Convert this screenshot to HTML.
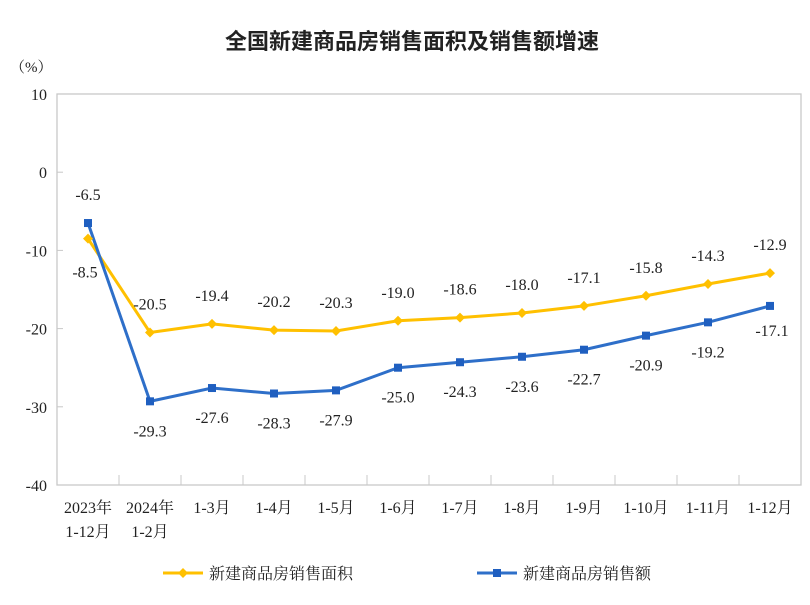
<!DOCTYPE html>
<html><head><meta charset="utf-8"><style>
body{margin:0;background:#fff;}
svg text{font-family:"Liberation Serif","Noto Serif CJK SC",serif;fill:#222;}
</style></head><body>
<svg id="c" width="810" height="600" xmlns="http://www.w3.org/2000/svg">
<text x="412" y="49" text-anchor="middle" font-size="22" font-weight="bold" style="font-family:'Liberation Sans','Noto Sans CJK SC',sans-serif">全国新建商品房销售面积及销售额增速</text>
<text x="10" y="72" font-size="15">（%）</text>
<rect x="57" y="94" width="744" height="391" fill="none" stroke="#c8c8c8" stroke-width="1.3"/>
<g id="ax"></g><g id="series"></g>
<g>
<g><line x1="163" y1="573" x2="203" y2="573" stroke="#ffc000" stroke-width="3"/><path d="M183 568 L188 573 L183 578 L178 573Z" fill="#ffc000"/><text x="209" y="579" font-size="16">新建商品房销售面积</text></g>
<g><line x1="477" y1="573" x2="517" y2="573" stroke="#2e6fc9" stroke-width="3"/><rect x="493" y="569" width="8" height="8" fill="#1f5fc0"/><text x="523" y="579" font-size="16">新建商品房销售额</text></g>
</g>
</svg>
<script>
const categories=["2023年|1-12月","2024年|1-2月","1-3月","1-4月","1-5月","1-6月","1-7月","1-8月","1-9月","1-10月","1-11月","1-12月"];
const areaValues=[-8.5,-20.5,-19.4,-20.2,-20.3,-19.0,-18.6,-18.0,-17.1,-15.8,-14.3,-12.9];
const salesValues=[-6.5,-29.3,-27.6,-28.3,-27.9,-25.0,-24.3,-23.6,-22.7,-20.9,-19.2,-17.1];
const yTicks=[10,0,-10,-20,-30,-40];
const NS="http://www.w3.org/2000/svg";
const L=57,R=801,T=94,B=485,ymax=10,ymin=-40;
const bw=(R-L)/categories.length;
const xs=i=>L+bw*(i+0.5);
const ys=v=>T+(ymax-v)/(ymax-ymin)*(B-T);
function mk(p,tag,a){const e=document.createElementNS(NS,tag);for(const k in a)e.setAttribute(k,a[k]);p.appendChild(e);return e;}
const ax=document.getElementById('ax'),sg=document.getElementById('series');
yTicks.forEach(t=>{const y=ys(t);
if(t>ymin&&t<ymax){const l=mk(ax,'line',{x1:L,x2:L+6,y1:y,y2:y,stroke:'#c8c8c8'});

}
const tx=mk(ax,'text',{x:L-10,y:y+6,'text-anchor':'end','font-size':16});tx.textContent=t;

});
categories.forEach((c,i)=>{
if(i>0){const l=mk(ax,'line',{x1:L+bw*i,x2:L+bw*i,y1:B,y2:B-10,stroke:'#c8c8c8'});

}
const parts=c.split('|');
parts.forEach((p,j)=>{const tx=mk(ax,'text',{x:xs(i),y:513+j*24,'text-anchor':'middle','font-size':16});tx.textContent=p;

});});
function line(vals,color,name){
const pl=mk(sg,'polyline',{points:vals.map((v,i)=>xs(i)+','+ys(v)).join(' '),fill:'none',stroke:color,'stroke-width':3});

}
line(areaValues,'#ffc000','area');
line(salesValues,'#2e6fc9','sales');
areaValues.forEach((v,i)=>{const x=xs(i),y=ys(v);
const m=mk(sg,'path',{d:`M${x} ${y-5}L${x+5} ${y}L${x} ${y+5}L${x-5} ${y}Z`,fill:'#ffc000'});


const t=mk(sg,'text',{x:i==0?x-3:x,y:i==0?y+39:y-23,'text-anchor':'middle','font-size':16});t.textContent=v.toFixed(1);

});
salesValues.forEach((v,i)=>{const x=xs(i),y=ys(v);
const m=mk(sg,'rect',{x:x-4,y:y-4,width:8,height:8,fill:'#1f5fc0'});


let tx=x,ty=y+35;if(i==0){ty=y-23;}if(i==11){tx=x+2;ty=y+30;}
const t=mk(sg,'text',{x:tx,y:ty,'text-anchor':'middle','font-size':16});t.textContent=v.toFixed(1);

});
</script>
</body></html>
